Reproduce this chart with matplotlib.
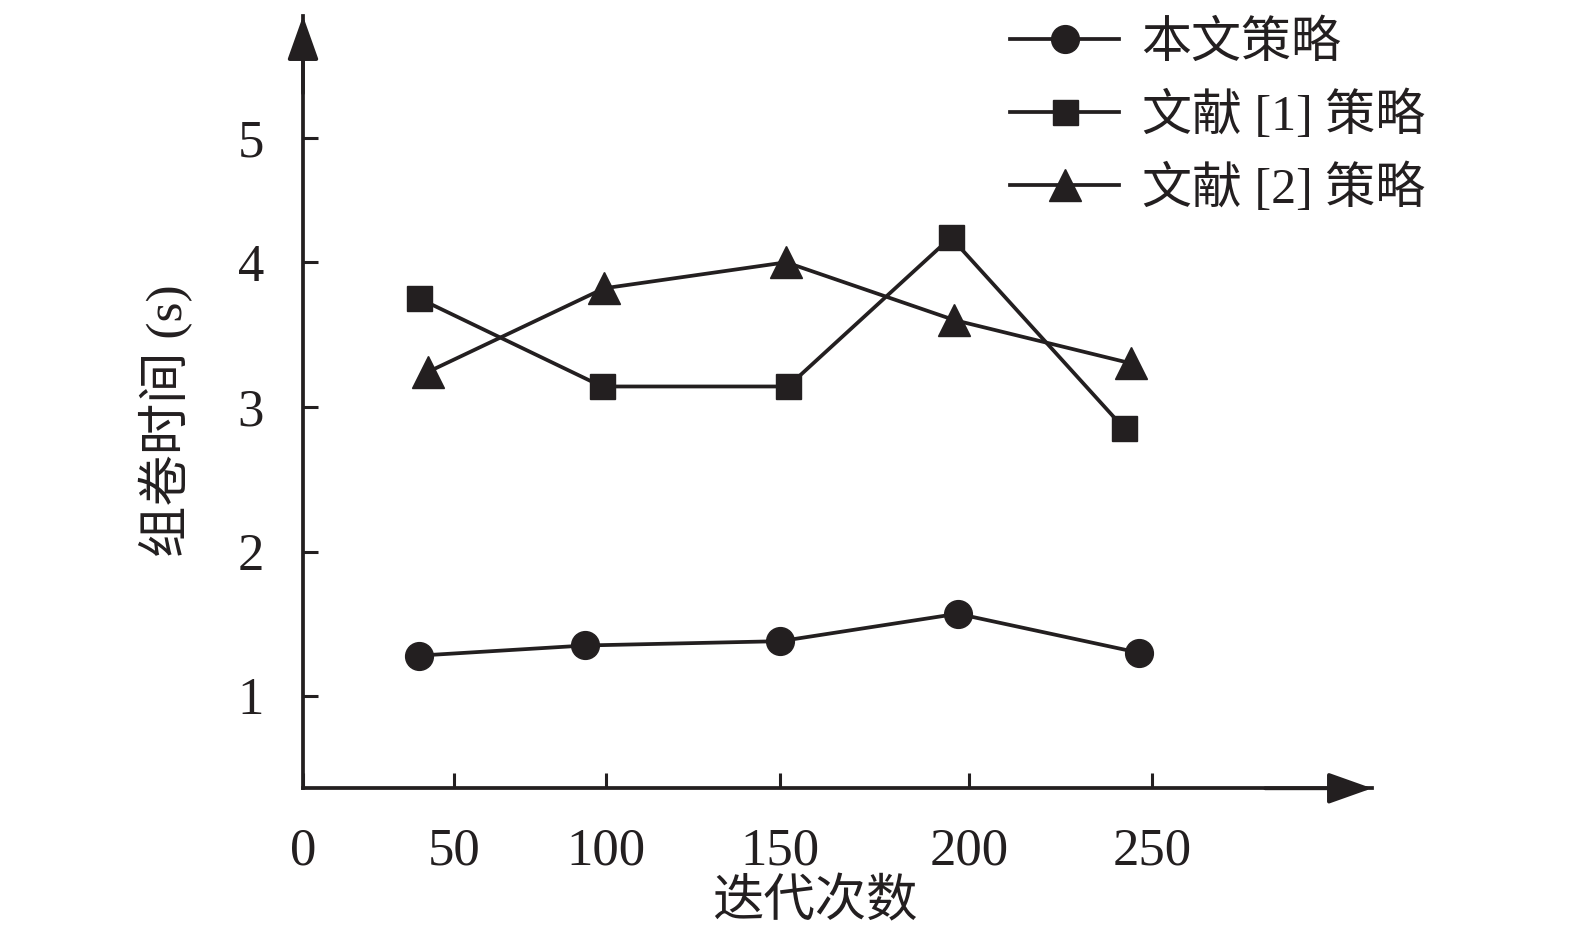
import numpy as np
import matplotlib
matplotlib.use("Agg")
import matplotlib.pyplot as plt

# data
x_ours = [38.5, 93.1, 150.1, 197.0, 246.4]
y_ours = [1.28, 1.35, 1.38, 1.57, 1.30]
x_ref1 = [38.4, 98.7, 152.1, 195.2, 242.4]
y_ref1 = [3.75, 3.14, 3.14, 4.20, 2.85]
x_ref2 = [41.3, 99.4, 151.6, 196.1, 244.3]
y_ref2 = [3.24, 3.82, 4.00, 3.60, 3.30]

labels = ["本文策略", "文献 [1] 策略", "文献 [2] 策略"]
x_ticks = [0, 50, 100, 150, 200, 250]
y_ticks = [1, 2, 3, 4, 5]

# the original axes are not evenly spaced, so use piecewise-linear scales
x_scale_vals = [0, 50, 100, 150, 200, 250]
x_scale_pos = [0, 151, 303, 477, 666, 849]
y_scale_vals = [1, 2, 3, 4, 5]
y_scale_pos = [92.3, 236.6, 381.6, 526.0, 650.6]


def piecewise(vals, pos):
    vals = np.asarray(vals, float)
    pos = np.asarray(pos, float)

    def conv(v, a, b):
        v = np.asarray(v, float)
        out = np.interp(v, a, b)
        lo_slope = (b[1] - b[0]) / (a[1] - a[0])
        hi_slope = (b[-1] - b[-2]) / (a[-1] - a[-2])
        out = np.where(v < a[0], b[0] + (v - a[0]) * lo_slope, out)
        out = np.where(v > a[-1], b[-1] + (v - a[-1]) * hi_slope, out)
        return out

    return (lambda v: conv(v, vals, pos)), (lambda p: conv(p, pos, vals))


plt.rcParams['font.family'] = ['Liberation Serif', 'Noto Sans CJK SC']
col = '#231f20'

W, H = 1575, 949
fig = plt.figure(figsize=(W / 100, H / 100), dpi=100)
ax_l, ax_r, ax_b, ax_t = 303, 1372, 788.3, 16
ax = fig.add_axes([ax_l / W, (H - ax_b) / H, (ax_r - ax_l) / W, (ax_b - ax_t) / H])

fx, ix = piecewise(x_scale_vals, x_scale_pos)
fy, iy = piecewise(y_scale_vals, y_scale_pos)
ax.set_xscale('function', functions=(fx, ix))
ax.set_yscale('function', functions=(fy, iy))
ax.set_xlim(0, float(ix(ax_r - ax_l)))
ax.set_ylim(float(iy(0)), float(iy(ax_b - ax_t)))

lw = 2.7
ax.plot(x_ours, y_ours, color=col, lw=lw, marker='o', ms=20, mec=col, mew=1,
        label=labels[0])
ax.plot(x_ref1, y_ref1, color=col, lw=lw, marker='s', ms=18, mec=col, mew=1,
        label=labels[1])
ax.plot(x_ref2, y_ref2, color=col, lw=lw, marker='^', ms=23, mec=col, mew=1,
        label=labels[2])

ax.set_xticks(x_ticks)
ax.set_xticklabels([str(t) for t in x_ticks])
ax.set_yticks(y_ticks)
ax.set_yticklabels([str(t) for t in y_ticks])
ax.minorticks_off()
ax.tick_params(direction='in', length=10.5, width=2.2, color=col,
               labelsize=38, labelcolor=col)
ax.tick_params(axis='x', pad=28)
ax.tick_params(axis='y', pad=28)

for s in ['top', 'right']:
    ax.spines[s].set_visible(False)
for s in ['left', 'bottom']:
    ax.spines[s].set_linewidth(lw)
    ax.spines[s].set_color(col)

arrow = dict(arrowstyle='-|>,head_length=1.35,head_width=0.48', lw=lw,
             color=col, shrinkA=0, shrinkB=0, mutation_scale=20)
ax.annotate('', xy=(1, 0), xytext=(0.9, 0), xycoords='axes fraction',
            arrowprops=arrow, annotation_clip=False)
ax.annotate('', xy=(0, 1), xytext=(0, 0.9), xycoords='axes fraction',
            arrowprops=arrow, annotation_clip=False)

fig.text(815 / W, 1 - 903 / H, "迭代次数", fontsize=37, color=col,
         ha='center', va='center')
fig.text(166 / W, 1 - 421 / H, "组卷时间 (s)", fontsize=37, color=col,
         ha='center', va='center', rotation=90)

ax.legend(loc='upper left', bbox_to_anchor=(1010 / W, 1 - 21 / H),
          bbox_transform=fig.transFigure, frameon=False, fontsize=36,
          handlelength=2.18, handletextpad=0.45, labelspacing=0.47,
          borderpad=0, borderaxespad=0, labelcolor=col)

fig.savefig("out.png", dpi=100)
